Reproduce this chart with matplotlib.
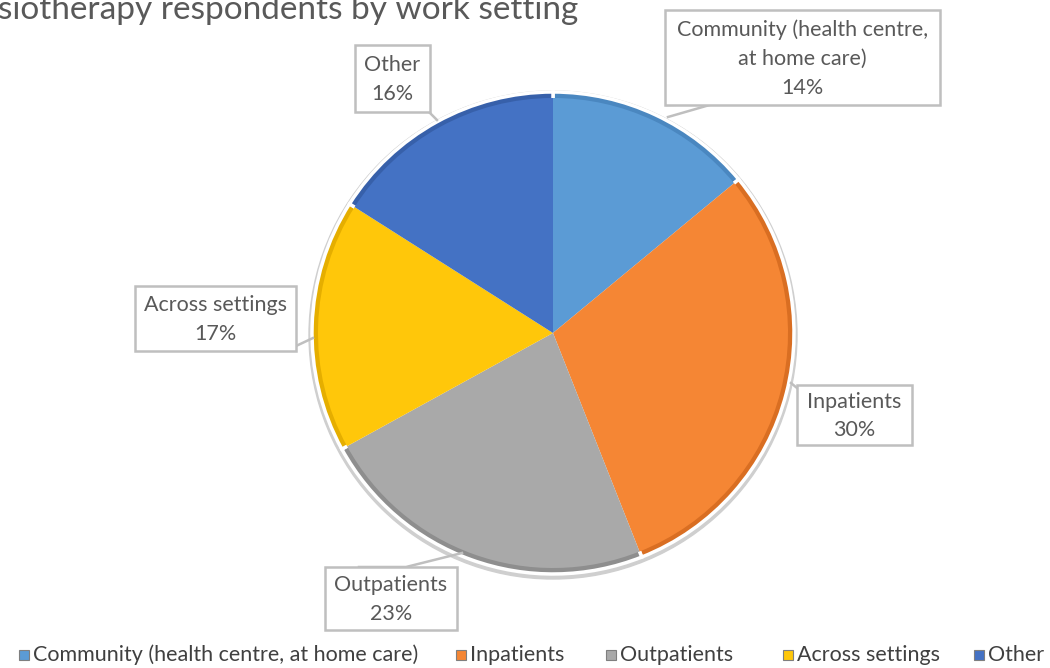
import matplotlib
matplotlib.use("Agg")
import matplotlib.pyplot as plt
from matplotlib.patches import Rectangle

plt.rcParams['font.family'] = ['Lato', 'DejaVu Sans']

# Chart data
title = "Physiotherapy respondents by work setting"
categories = ["Community (health centre, at home care)", "Inpatients",
              "Outpatients", "Across settings", "Other"]
box_names = ["Community (health centre,\nat home care)", "Inpatients",
             "Outpatients", "Across settings", "Other"]
shares = [14, 30, 23, 17, 16]
colors = ["#5B9BD5", "#F58634", "#A9A9A9", "#FFC70A", "#4472C4"]
dark = ["#4A87C0", "#D96E22", "#8E8E8E", "#E5AE00", "#3760AA"]

W, H = 1050, 668
fig = plt.figure(figsize=(W / 100, H / 100), dpi=100)
ax = fig.add_axes([0, 0, 1, 1])

cx, cy, r = 553, H - 333, 241

# outer soft rim
ax.add_patch(plt.Circle((cx, cy - 2), r + 3, color="#CFCFCF", zorder=0))

# base wedges (darker, giving a bevelled edge)
ax.pie(shares, colors=dark, startangle=90, counterclock=False,
       center=(cx, cy), radius=r, frame=False,
       wedgeprops=dict(edgecolor="white", linewidth=2.5))
# lighter inner faces
inner, _ = ax.pie(shares, colors=colors, startangle=90, counterclock=False,
                  center=(cx, cy), radius=r - 6, frame=False,
                  wedgeprops=dict(edgecolor="none", linewidth=0))
for w in inner:
    w.set_zorder(3)
ax.set_xlim(0, W)
ax.set_ylim(0, H)
ax.set_aspect('equal')
ax.axis('off')

# label boxes: (x0, y0, x1, y1) in pixels from top, and leader line points
boxes = [
    (665, 10, 940, 105),
    (797, 385, 912, 445),
    (325, 567, 457, 630),
    (135, 286, 296, 351),
    (355, 45, 430, 112),
]
leaders = [
    [(667, 105), (713, 104), (668, 117)],
    [(797, 388), (791, 383)],
    [(359, 567), (406, 567), (462, 553)],
    [(296, 346), (313, 338)],
    [(429, 112), (437, 120)],
]
for (x0, y0, x1, y1), name, v, lead in zip(boxes, box_names, shares, leaders):
    ax.add_patch(Rectangle((x0, H - y1), x1 - x0, y1 - y0, facecolor="white",
                           edgecolor="#BFBFBF", linewidth=1.8, zorder=5))
    ax.text((x0 + x1) / 2, H - (y0 + y1) / 2 - 1, f"{name}\n{v}%",
            ha="center", va="center", fontsize=15.5, color="#595959",
            linespacing=1.55, zorder=6)
    xs = [p[0] for p in lead]
    ys = [H - p[1] for p in lead]
    ax.plot(xs, ys, color="#BFBFBF", linewidth=1.8, zorder=4)

# title, partly running off the left edge
ax.text(578, H - 19, title, ha="right", va="baseline", fontsize=24,
        color="#595959", clip_on=False)

# legend entries along the bottom
legend_x = [33, 470, 620, 797, 988]
legend_y = H - 655
for x, c, name in zip(legend_x, colors, categories):
    ax.add_patch(Rectangle((x - 14, legend_y - 5), 10, 10, facecolor=c,
                           edgecolor="#7F7F7F", linewidth=0.8, zorder=5))
    ax.text(x, legend_y, name, ha="left", va="center", fontsize=15.5,
            color="#404040", clip_on=False)

fig.savefig("out.png", dpi=100)
